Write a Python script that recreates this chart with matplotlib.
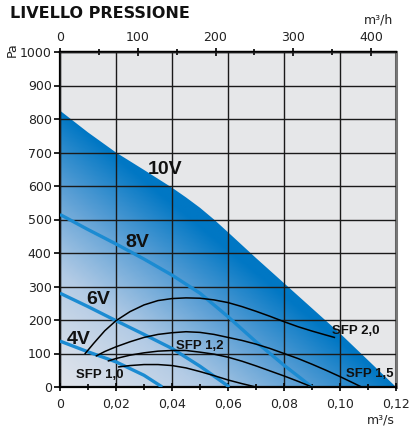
import numpy as np
import matplotlib.pyplot as plt
from matplotlib.colors import LinearSegmentedColormap
from matplotlib.patches import Polygon
from matplotlib.ticker import MultipleLocator, FixedLocator, FuncFormatter

# curve data (flow in m3/s, pressure in Pa)
v10_x = [0, 0.01, 0.02, 0.03, 0.04, 0.045, 0.05, 0.055, 0.06, 0.07, 0.08, 0.09, 0.10, 0.11, 0.12]
v10_y = [825, 760, 700, 648, 595, 566, 535, 500, 462, 385, 310, 235, 160, 80, 0]

v8_x = [0, 0.01, 0.02, 0.03, 0.04, 0.05, 0.06, 0.07, 0.08, 0.09]
v8_y = [515, 470, 427, 382, 334, 280, 210, 135, 65, 0]

v6_x = [0, 0.01, 0.02, 0.03, 0.04, 0.05, 0.0605]
v6_y = [280, 240, 198, 157, 115, 62, 0]

v4_x = [0, 0.01, 0.02, 0.03, 0.0365]
v4_y = [137, 105, 75, 35, 0]

sfp20_x = [0.009, 0.012, 0.016, 0.02, 0.025, 0.03, 0.035, 0.04, 0.045, 0.05,
           0.055, 0.06, 0.065, 0.07, 0.075, 0.08, 0.085, 0.09, 0.095, 0.098]
sfp20_y = [100, 130, 168, 198, 225, 245, 258, 264, 266, 265,
           260, 252, 240, 226, 211, 195, 180, 167, 155, 148]

sfp15_x = [0.013, 0.016, 0.02, 0.025, 0.03, 0.035, 0.04, 0.045, 0.05, 0.055, 0.06,
           0.065, 0.07, 0.075, 0.08, 0.085, 0.09, 0.095, 0.1, 0.104, 0.1077]
sfp15_y = [93, 106, 120, 135, 148, 157, 162, 165, 163, 157, 148,
           139, 128, 115, 100, 85, 68, 50, 31, 15, 0]

sfp12_x = [0.0173, 0.02, 0.025, 0.03, 0.035, 0.04, 0.045, 0.05, 0.055, 0.06,
           0.065, 0.07, 0.075, 0.08, 0.085, 0.09]
sfp12_y = [78, 85, 95, 102, 107, 109, 109, 104, 98, 89, 77, 63, 48, 33, 17, 0]

sfp10_x = [0.021, 0.025, 0.03, 0.035, 0.04, 0.045, 0.05, 0.055, 0.06, 0.065, 0.07]
sfp10_y = [60, 64, 67, 67, 64, 57, 46, 34, 21, 10, 0]

top_ticks = [0, 100, 200, 300, 400]

blue = '#1b8bd2'

fig = plt.figure(figsize=(4.11, 4.30), dpi=100)
ax = fig.add_axes([60/411, 1 - 387/430, 336/411, 335/430])
ax.set_facecolor('#e6e7e9')
ax.set_xlim(0, 0.12)
ax.set_ylim(0, 1000)

# gradient fill under the 10V curve
cmap = LinearSegmentedColormap.from_list('fan', ['#dfe3ea', '#b3cbe5', '#5b9fd5', '#0077c4'])
gx, gy = np.meshgrid(np.linspace(0, 0.12, 300), np.linspace(0, 1000, 300))
t = np.clip(gx / 0.12 + gy / 825, 0, 1) ** 1.25
img = ax.imshow(t, extent=[0, 0.12, 0, 1000], origin='lower', aspect='auto',
                cmap=cmap, vmin=0, vmax=1, zorder=1, interpolation='bilinear')
poly = Polygon(list(zip(v10_x, v10_y)) + [(0.12, 0), (0, 0)], closed=True,
               transform=ax.transData, facecolor='none', edgecolor='none')
ax.add_patch(poly)
img.set_clip_path(poly)

# grid
ax.xaxis.set_major_locator(MultipleLocator(0.02))
ax.xaxis.set_minor_locator(MultipleLocator(0.01))
ax.yaxis.set_major_locator(MultipleLocator(100))
ax.grid(True, which='major', color='#1a1a1a', linewidth=1.0, zorder=2)
ax.set_axisbelow(False)

for xs, ys in [(v8_x, v8_y), (v6_x, v6_y), (v4_x, v4_y)]:
    ax.plot(xs, ys, color=blue, linewidth=2.4, zorder=4, solid_capstyle='butt')

for xs, ys in [(sfp20_x, sfp20_y), (sfp15_x, sfp15_y), (sfp12_x, sfp12_y), (sfp10_x, sfp10_y)]:
    ax.plot(xs, ys, color='black', linewidth=1.1, zorder=5)

lab = dict(fontfamily='Liberation Sans', fontweight='bold', color='#111111', zorder=6)
ax.text(0.0375, 650, '10V', fontsize=14, ha='center', va='center', **lab)
ax.text(0.0275, 430, '8V', fontsize=14, ha='center', va='center', **lab)
ax.text(0.0135, 262, '6V', fontsize=14, ha='center', va='center', **lab)
ax.text(0.0067, 143, '4V', fontsize=14, ha='center', va='center', **lab)
ax.text(0.1055, 168, 'SFP 2,0', fontsize=9.5, ha='center', va='center', **lab)
ax.text(0.050, 123, 'SFP 1,2', fontsize=9.5, ha='center', va='center', **lab)
ax.text(0.1108, 40, 'SFP 1,5', fontsize=9.5, ha='center', va='center', **lab)
ax.text(0.0142, 35, 'SFP 1,0', fontsize=9.5, ha='center', va='center', **lab)

# axes styling
ax.xaxis.set_major_formatter(FuncFormatter(lambda v, p: '0' if abs(v) < 1e-9 else f'{v:.2f}'.replace('.', ',')))
ax.tick_params(axis='x', which='major', direction='inout', length=6, width=1.2, labelsize=9, labelcolor='#222222', pad=5)
ax.tick_params(axis='x', which='minor', direction='inout', length=5, width=1.2)
ax.tick_params(axis='y', which='major', direction='out', length=4, width=1.2, labelsize=9, labelcolor='#222222', pad=2)
for s in ['left', 'bottom', 'top']:
    ax.spines[s].set_linewidth(1.6)
    ax.spines[s].set_color('black')
ax.spines['right'].set_linewidth(2.2)
ax.spines['right'].set_color('#777777')

secax = ax.secondary_xaxis('top', functions=(lambda q: q * 3600, lambda q: q / 3600))
secax.xaxis.set_major_locator(FixedLocator(top_ticks))
secax.xaxis.set_minor_locator(FixedLocator([50, 150, 250, 350]))
secax.tick_params(which='major', direction='inout', length=6, width=1.2, labelsize=9, labelcolor='#222222', pad=3)
secax.tick_params(which='minor', direction='inout', length=5, width=1.2)
secax.spines['top'].set_linewidth(1.6)

fig.text(10/411, 1 - 13/430, 'LIVELLO PRESSIONE', fontsize=11.5, fontweight='bold',
         fontfamily='DejaVu Sans', color='#111111', ha='left', va='center')
fig.text(12/411, 1 - 50/430, 'Pa', rotation=90, fontsize=9, color='#222222', ha='center', va='center')
fig.text(378/411, 1 - 20/430, 'm³/h', fontsize=9, color='#222222', ha='center', va='center')
fig.text(381/411, 1 - 420/430, 'm³/s', fontsize=9, color='#222222', ha='center', va='center')

fig.savefig('out.png', dpi=100)
